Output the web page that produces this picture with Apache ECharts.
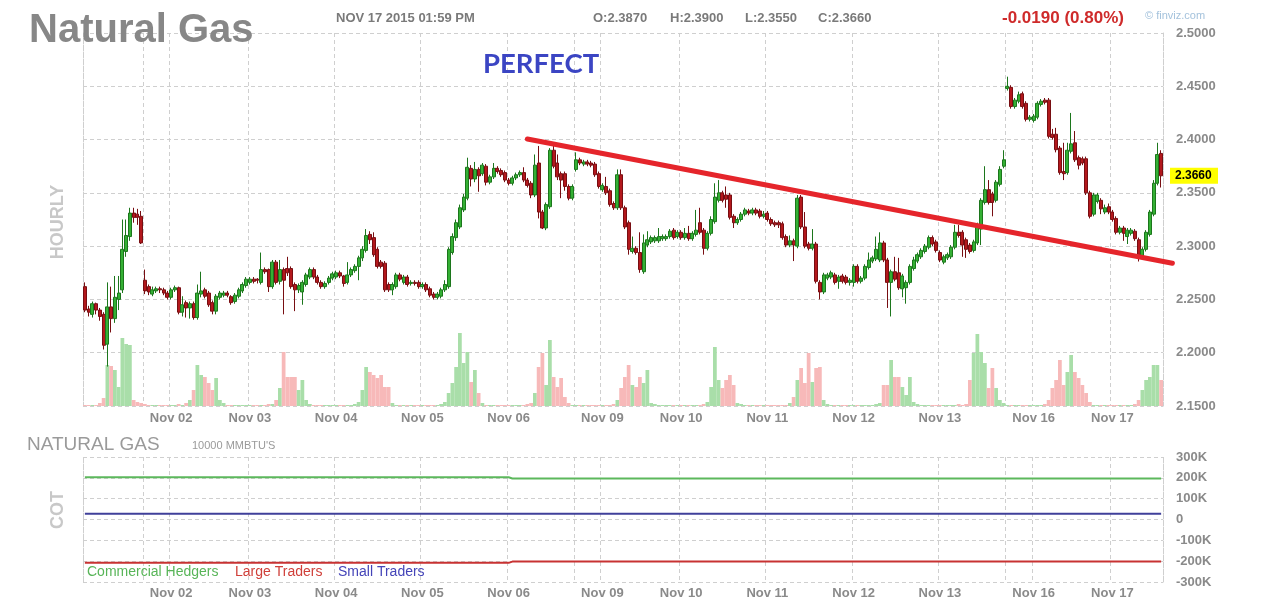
<!DOCTYPE html>
<html><head><meta charset="utf-8">
<script src="https://cdn.jsdelivr.net/npm/echarts/dist/echarts.min.js"></script>
<style>html,body{margin:0;padding:0;background:#fff}#c{width:1261px;height:610px}</style>
</head><body><div id="c"></div>
<script>
// ---- session structure (hourly bars) ----
const segDays  = ['Oct 30','Nov 01','Nov 02','Nov 03','Nov 04','Nov 05','Nov 06','Nov 08','Nov 09','Nov 10','Nov 11','Nov 12','Nov 13','Nov 15','Nov 16','Nov 17'];
const segStartHour = [0,17,0,0,0,0,0,17,0,0,0,0,0,17,0,0];
const tickLabels = ['Nov 02','Nov 03','Nov 04','Nov 05','Nov 06','Nov 09','Nov 10','Nov 11','Nov 12','Nov 13','Nov 16','Nov 17'];

// ---- hourly OHLC [open, high, low, close] per session ----
const barsOct30 = [[2.262,2.266,2.238,2.240],[2.241,2.244,2.234,2.238],[2.236,2.248,2.233,2.246],[2.246,2.247,2.236,2.240],[2.240,2.242,2.230,2.234],[2.236,2.238,2.203,2.207],[2.208,2.266,2.187,2.243],[2.243,2.262,2.219,2.232],[2.232,2.272,2.228,2.252],[2.250,2.272,2.240,2.256],[2.259,2.325,2.256,2.297],[2.295,2.325,2.290,2.310],[2.309,2.336,2.305,2.331],[2.331,2.336,2.322,2.327],[2.330,2.335,2.320,2.327],[2.328,2.333,2.302,2.303]];
const barsNov01 = [[2.268,2.278,2.255,2.258],[2.262,2.264,2.254,2.257],[2.255,2.262,2.253,2.259],[2.258,2.262,2.256,2.260],[2.260,2.262,2.256,2.259],[2.259,2.261,2.254,2.256],[2.256,2.258,2.250,2.252]];
const barsNov02 = [[2.252,2.261,2.250,2.259],[2.259,2.263,2.257,2.261],[2.261,2.262,2.236,2.238],[2.238,2.253,2.234,2.245],[2.247,2.249,2.233,2.242],[2.242,2.248,2.232,2.246],[2.246,2.248,2.231,2.233],[2.233,2.264,2.231,2.256],[2.255,2.276,2.252,2.258],[2.259,2.261,2.251,2.253],[2.256,2.258,2.243,2.245],[2.247,2.249,2.236,2.239],[2.239,2.255,2.236,2.253],[2.252,2.258,2.250,2.256],[2.254,2.258,2.252,2.256],[2.256,2.258,2.252,2.254],[2.2526,2.254,2.245,2.247],[2.248,2.256,2.246,2.254],[2.253,2.261,2.251,2.259],[2.258,2.266,2.256,2.264],[2.263,2.271,2.261,2.269]];
const barsNov03 = [[2.266,2.271,2.264,2.269],[2.269,2.271,2.265,2.267],[2.269,2.270,2.265,2.268],[2.266,2.294,2.264,2.278],[2.278,2.280,2.274,2.276],[2.278,2.279,2.257,2.262],[2.262,2.287,2.260,2.285],[2.285,2.287,2.264,2.266],[2.267,2.287,2.264,2.278],[2.278,2.280,2.236,2.268],[2.279,2.290,2.272,2.275],[2.279,2.281,2.260,2.262],[2.264,2.266,2.239,2.259],[2.259,2.265,2.256,2.263],[2.257,2.268,2.245,2.266],[2.264,2.275,2.262,2.273],[2.271,2.280,2.269,2.278],[2.278,2.280,2.269,2.271],[2.271,2.273,2.264,2.266],[2.266,2.268,2.260,2.262],[2.262,2.267,2.260,2.265],[2.266,2.272,2.264,2.270],[2.270,2.276,2.268,2.274]];
const barsNov04 = [[2.271,2.277,2.269,2.275],[2.275,2.277,2.270,2.272],[2.272,2.273,2.262,2.265],[2.266,2.285,2.264,2.273],[2.273,2.280,2.271,2.278],[2.277,2.283,2.275,2.281],[2.281,2.291,2.268,2.289],[2.289,2.300,2.286,2.297],[2.296,2.316,2.294,2.310],[2.311,2.314,2.302,2.306],[2.308,2.313,2.290,2.292],[2.297,2.299,2.279,2.281],[2.285,2.287,2.279,2.281],[2.284,2.286,2.257,2.259],[2.264,2.266,2.257,2.259],[2.259,2.266,2.254,2.264],[2.262,2.275,2.260,2.273],[2.273,2.275,2.267,2.269],[2.266,2.273,2.264,2.271],[2.271,2.273,2.262,2.264],[2.265,2.268,2.263,2.266],[2.266,2.268,2.263,2.265],[2.266,2.268,2.260,2.262]];
const barsNov05 = [[2.262,2.266,2.260,2.264],[2.264,2.266,2.257,2.259],[2.260,2.262,2.252,2.254],[2.255,2.257,2.250,2.252],[2.252,2.257,2.250,2.255],[2.253,2.261,2.251,2.259],[2.259,2.268,2.257,2.264],[2.262,2.299,2.260,2.297],[2.294,2.312,2.292,2.309],[2.308,2.325,2.305,2.322],[2.318,2.339,2.316,2.336],[2.334,2.349,2.332,2.346],[2.345,2.383,2.343,2.374],[2.373,2.376,2.356,2.363],[2.363,2.379,2.360,2.372],[2.372,2.374,2.351,2.366],[2.368,2.378,2.366,2.376],[2.375,2.377,2.357,2.360],[2.360,2.367,2.358,2.365],[2.365,2.378,2.363,2.373],[2.373,2.375,2.368,2.370],[2.371,2.373,2.365,2.367],[2.369,2.371,2.360,2.362]];
const barsNov06 = [[2.362,2.364,2.357,2.359],[2.359,2.366,2.357,2.364],[2.364,2.369,2.362,2.367],[2.367,2.371,2.365,2.369],[2.369,2.374,2.360,2.362],[2.362,2.364,2.355,2.357],[2.359,2.361,2.345,2.348],[2.348,2.386,2.346,2.376],[2.378,2.394,2.326,2.332],[2.332,2.334,2.316,2.317],[2.317,2.341,2.315,2.339],[2.337,2.392,2.335,2.390],[2.390,2.394,2.373,2.375],[2.378,2.386,2.362,2.365],[2.368,2.370,2.345,2.362],[2.368,2.370,2.352,2.356],[2.356,2.358,2.343,2.345],[2.345,2.358,2.343,2.356]];
const barsNov08 = [[2.372,2.388,2.370,2.381],[2.381,2.383,2.376,2.378],[2.377,2.381,2.375,2.379],[2.379,2.381,2.375,2.377],[2.378,2.380,2.374,2.376],[2.377,2.379,2.365,2.367],[2.368,2.370,2.354,2.356]];
const barsNov09 = [[2.353,2.359,2.351,2.357],[2.356,2.365,2.348,2.350],[2.352,2.354,2.337,2.339],[2.340,2.342,2.334,2.336],[2.336,2.372,2.334,2.367],[2.367,2.372,2.334,2.336],[2.336,2.338,2.316,2.318],[2.322,2.324,2.292,2.297],[2.295,2.309,2.293,2.298],[2.298,2.300,2.292,2.294],[2.294,2.313,2.275,2.278],[2.276,2.311,2.274,2.303],[2.301,2.314,2.299,2.306],[2.304,2.310,2.302,2.308],[2.305,2.310,2.303,2.308],[2.305,2.317,2.303,2.309],[2.307,2.311,2.305,2.309],[2.307,2.311,2.305,2.309],[2.309,2.316,2.307,2.314],[2.315,2.317,2.306,2.308],[2.309,2.315,2.307,2.313]];
const barsNov10 = [[2.313,2.315,2.306,2.308],[2.308,2.317,2.306,2.312],[2.312,2.319,2.305,2.307],[2.307,2.314,2.305,2.312],[2.311,2.334,2.309,2.315],[2.322,2.336,2.311,2.313],[2.315,2.317,2.292,2.298],[2.298,2.314,2.296,2.312],[2.312,2.328,2.310,2.325],[2.323,2.359,2.321,2.346],[2.343,2.362,2.341,2.350],[2.350,2.352,2.341,2.343],[2.348,2.356,2.336,2.344],[2.348,2.350,2.325,2.327],[2.328,2.330,2.317,2.322],[2.322,2.327,2.320,2.325],[2.325,2.332,2.323,2.330],[2.330,2.336,2.328,2.334],[2.333,2.335,2.329,2.331],[2.331,2.336,2.329,2.334],[2.334,2.336,2.329,2.331],[2.333,2.335,2.326,2.328],[2.328,2.333,2.326,2.330]];
const barsNov11 = [[2.331,2.333,2.323,2.325],[2.325,2.327,2.319,2.321],[2.322,2.324,2.318,2.320],[2.322,2.324,2.317,2.320],[2.321,2.323,2.306,2.308],[2.309,2.311,2.299,2.301],[2.301,2.310,2.299,2.305],[2.305,2.307,2.286,2.301],[2.300,2.348,2.298,2.345],[2.346,2.348,2.316,2.318],[2.318,2.332,2.298,2.300],[2.302,2.304,2.296,2.298],[2.298,2.316,2.296,2.302],[2.302,2.304,2.265,2.267],[2.266,2.268,2.250,2.257],[2.257,2.275,2.255,2.273],[2.270,2.275,2.268,2.273],[2.271,2.277,2.269,2.275],[2.273,2.275,2.264,2.266],[2.267,2.273,2.260,2.271],[2.272,2.274,2.265,2.267],[2.271,2.273,2.264,2.266],[2.266,2.270,2.263,2.268]];
const barsNov12 = [[2.266,2.283,2.262,2.281],[2.281,2.283,2.265,2.267],[2.267,2.272,2.265,2.270],[2.270,2.283,2.268,2.281],[2.280,2.294,2.278,2.287],[2.286,2.291,2.284,2.289],[2.288,2.309,2.286,2.297],[2.287,2.313,2.285,2.303],[2.303,2.305,2.285,2.287],[2.287,2.289,2.242,2.266],[2.266,2.278,2.234,2.276],[2.276,2.290,2.267,2.269],[2.275,2.289,2.259,2.261],[2.260,2.274,2.252,2.272],[2.261,2.268,2.246,2.266],[2.266,2.283,2.264,2.281],[2.279,2.290,2.277,2.287],[2.286,2.294,2.284,2.292],[2.290,2.298,2.288,2.296],[2.295,2.302,2.293,2.300],[2.299,2.310,2.297,2.308],[2.308,2.310,2.300,2.302],[2.304,2.306,2.294,2.296]];
const barsNov13 = [[2.294,2.296,2.285,2.287],[2.285,2.292,2.283,2.290],[2.289,2.294,2.287,2.292],[2.290,2.301,2.288,2.299],[2.299,2.320,2.297,2.313],[2.313,2.320,2.308,2.310],[2.313,2.315,2.290,2.301],[2.306,2.308,2.289,2.297],[2.301,2.303,2.293,2.295],[2.296,2.306,2.294,2.304],[2.303,2.322,2.301,2.320],[2.316,2.345,2.301,2.343],[2.341,2.375,2.339,2.353],[2.353,2.362,2.339,2.341],[2.349,2.351,2.328,2.341],[2.343,2.362,2.341,2.360],[2.358,2.375,2.356,2.372],[2.375,2.390,2.373,2.381]];
const barsNov15 = [[2.448,2.459,2.446,2.450],[2.449,2.451,2.429,2.431],[2.431,2.439,2.429,2.437],[2.436,2.445,2.434,2.442],[2.443,2.445,2.429,2.431],[2.434,2.436,2.417,2.419],[2.419,2.423,2.417,2.421]];
const barsNov16 = [[2.418,2.424,2.416,2.422],[2.421,2.436,2.419,2.434],[2.433,2.438,2.431,2.436],[2.437,2.439,2.433,2.435],[2.437,2.439,2.401,2.403],[2.405,2.410,2.400,2.402],[2.405,2.411,2.388,2.3905],[2.392,2.394,2.367,2.369],[2.370,2.397,2.362,2.368],[2.369,2.397,2.367,2.390],[2.389,2.425,2.387,2.396],[2.397,2.408,2.379,2.381],[2.383,2.385,2.372,2.376],[2.382,2.384,2.376,2.378],[2.382,2.384,2.348,2.350],[2.350,2.352,2.326,2.328],[2.330,2.350,2.328,2.348],[2.342,2.350,2.340,2.348],[2.343,2.345,2.330,2.335],[2.332,2.339,2.330,2.336],[2.337,2.340,2.330,2.332]];
const barsNov17 = [[2.332,2.334,2.323,2.325],[2.326,2.328,2.311,2.313],[2.313,2.319,2.311,2.317],[2.317,2.319,2.305,2.312],[2.309,2.317,2.302,2.315],[2.312,2.317,2.310,2.315],[2.314,2.316,2.305,2.307],[2.306,2.308,2.2856,2.292],[2.290,2.299,2.288,2.297],[2.297,2.315,2.295,2.313],[2.311,2.334,2.309,2.332],[2.330,2.362,2.328,2.359],[2.359,2.397,2.357,2.386],[2.387,2.390,2.355,2.366]];

// ---- hourly volume (hundreds of lots) per session ----
const volOct30 = [1,1,1,1,3,8,41,40,36,19,68,62,61,6,4,3];
const volNov01 = [2,1,1,1,1,1,1];
const volNov02 = [1,1,2,1,3,6,16,41,31,29,23,16,28,6,3,1,1,1,1,1,1];
const volNov03 = [1,1,1,1,1,2,2,6,18,54,29,29,29,16,26,6,2,1,1,1,1,1,1];
const volNov04 = [1,1,1,1,1,2,4,16,39,34,31,28,31,19,19,3,1,1,1,1,1,1,1];
const volNov05 = [1,1,1,1,1,2,4,13,23,39,73,43,54,24,36,13,3,1,1,1,1,1,1];
const volNov06 = [1,1,1,1,1,2,3,13,39,53,21,66,29,19,28,9,3,1];
const volNov08 = [1,1,1,1,1,1,1];
const volNov09 = [1,1,1,2,6,18,29,41,21,19,29,23,36,3,2,1,1,1,1,1,1];
const volNov10 = [1,1,1,1,1,1,2,4,19,59,26,18,26,31,21,3,2,1,1,1,1,1,1];
const volNov11 = [1,1,1,1,1,1,3,9,26,38,23,53,24,38,39,6,2,1,1,1,1,1,1];
const volNov12 = [1,1,1,1,1,1,2,3,21,21,46,29,29,19,11,29,4,2,1,1,1,1,1];
const volNov13 = [1,1,1,1,1,2,1,2,26,53,72,54,43,18,38,18,6,3];
const volNov15 = [1,1,1,1,1,1,1];
const volNov16 = [1,1,1,2,6,18,26,46,21,34,51,34,28,21,13,4,1,1,1,1,1];
const volNov17 = [1,1,1,1,1,1,2,6,16,26,29,41,41,26];

// ---- COT net positions (weekly reports: bar index where each report takes effect) ----
const cotReportBar = [0, 114];
const commercialNet = [203000, 197000];
const largeNet = [-208000, -202000];
const smallNet = [28000, 28000];

// ---- annotations ----
const trendLine = [[118, 2.4005], [290, 2.2840]];   // [bar index, price]
const headerChange = '-0.0190 (0.80%)';
const headerTime = 'NOV 17 2015 01:59 PM';
const priceTicks = {min: 2.15, max: 2.50, step: 0.05};
const cotTicks = {min: -300000, max: 300000, step: 100000};

// ---- assemble ----
const sessionBars = [barsOct30,barsNov01,barsNov02,barsNov03,barsNov04,barsNov05,barsNov06,barsNov08,barsNov09,barsNov10,barsNov11,barsNov12,barsNov13,barsNov15,barsNov16,barsNov17];
const sessionVols = [volOct30,volNov01,volNov02,volNov03,volNov04,volNov05,volNov06,volNov08,volNov09,volNov10,volNov11,volNov12,volNov13,volNov15,volNov16,volNov17];

const categories = [], bars = [], vols = [], segStart = [], labelIdx = new Set();
sessionBars.forEach((seg, s) => {
  segStart.push(categories.length);
  if (tickLabels.includes(segDays[s])) labelIdx.add(categories.length);
  seg.forEach((b, k) => {
    const h = (segStartHour[s] + k) % 24;
    categories.push(segDays[s] + ' ' + String(h).padStart(2, '0') + ':00');
    bars.push(b);
    vols.push(sessionVols[s][k]);
  });
});
const gridIdx = new Set(segStart);
const N = categories.length;
const lastBar = bars[bars.length - 1];

const UP = '#34b034', UP_B = '#1c761c', DN = '#b3181c', DN_B = '#780e12';
const VUP = '#a9dea9', VDN = '#f7b9b9';
const FONT = '"Liberation Sans", Arial, sans-serif';
const dash = {color: '#cfcfcf', type: [4, 3], width: 1};
const axisLabelStyle = {color: '#8a8a8a', fontWeight: 'bold', fontSize: 13, fontFamily: FONT};

const candleData = bars.map(b => [b[0], b[3], b[2], b[1]]);
const volData = vols.map((v, i) => ({value: v, itemStyle: {color: bars[i][3] >= bars[i][0] ? VUP : VDN}}));
// each weekly report value holds until the next report
function holdSeries(vals) {
  const out = [];
  let r = 0;
  for (let i = 0; i < N; i++) {
    while (r + 1 < cotReportBar.length && i >= cotReportBar[r + 1]) r++;
    out.push(vals[r]);
  }
  return out;
}

const xBase = (gi) => ({
  type: 'category', gridIndex: gi, data: categories, boundaryGap: true,
  axisLine: {show: false}, axisTick: {show: false},
  axisLabel: Object.assign({interval: (i) => labelIdx.has(i), formatter: v => v.slice(0, 6), margin: gi === 0 ? 6 : 5}, axisLabelStyle),
  splitLine: {show: true, interval: (i) => gridIdx.has(i), lineStyle: dash}
});

const chart = echarts.init(document.getElementById('c'), null, {renderer: 'canvas'});
chart.setOption({
  animation: false,
  backgroundColor: '#ffffff',
  grid: [
    {left: 83, top: 33, width: 1080, height: 373, outerBoundsMode: 'none'},
    {left: 83, top: 457, width: 1080, height: 125, outerBoundsMode: 'none'}
  ],
  xAxis: [xBase(0), xBase(1)],
  yAxis: [
    {type: 'value', gridIndex: 0, position: 'right', min: priceTicks.min, max: priceTicks.max, interval: priceTicks.step,
     axisLine: {show: true, lineStyle: dash}, axisTick: {show: false},
     axisLabel: Object.assign({formatter: v => v.toFixed(4), margin: 13, showMinLabel: true, showMaxLabel: true}, axisLabelStyle),
     splitLine: {show: true, lineStyle: dash}},
    {type: 'value', gridIndex: 0, position: 'left', min: 0, max: 373,
     axisLine: {show: true, lineStyle: dash}, axisTick: {show: false}, axisLabel: {show: false}, splitLine: {show: false}},
    {type: 'value', gridIndex: 1, position: 'right', min: cotTicks.min, max: cotTicks.max, interval: cotTicks.step,
     axisLine: {show: true, lineStyle: dash}, axisTick: {show: false},
     axisLabel: Object.assign({formatter: v => v === 0 ? '0' : (v / 1000) + 'K', margin: 13, showMinLabel: true, showMaxLabel: true}, axisLabelStyle),
     splitLine: {show: true, lineStyle: dash}},
    {type: 'value', gridIndex: 1, position: 'left', min: cotTicks.min, max: cotTicks.max,
     axisLine: {show: true, lineStyle: dash}, axisTick: {show: false}, axisLabel: {show: false}, splitLine: {show: false}}
  ],
  series: [
    {name: 'Volume', type: 'bar', xAxisIndex: 0, yAxisIndex: 1, data: volData, barCategoryGap: '0%', z: 1},
    {name: 'Natural Gas', type: 'candlestick', xAxisIndex: 0, yAxisIndex: 0, data: candleData, barWidth: 3.5, z: 3,
     itemStyle: {color: UP, color0: DN, borderColor: UP_B, borderColor0: DN_B, borderWidth: 1}},
    {name: 'Commercial Hedgers', type: 'line', xAxisIndex: 1, yAxisIndex: 2, data: holdSeries(commercialNet), showSymbol: false, lineStyle: {color: '#5cb85c', width: 2}},
    {name: 'Large Traders', type: 'line', xAxisIndex: 1, yAxisIndex: 2, data: holdSeries(largeNet), showSymbol: false, lineStyle: {color: '#c83232', width: 2}},
    {name: 'Small Traders', type: 'line', xAxisIndex: 1, yAxisIndex: 2, data: holdSeries(smallNet), showSymbol: false, lineStyle: {color: '#40409a', width: 2}}
  ]
});

const p1 = chart.convertToPixel({gridIndex: 0}, trendLine[0]);
const p2 = chart.convertToPixel({gridIndex: 0}, trendLine[1]);
const yLast = chart.convertToPixel({yAxisIndex: 0}, lastBar[3]);
const hdr = (x, y, text, size, color, weight, family) => ({type: 'text', x, y, z: 50,
  style: {text, fontSize: size, fontWeight: weight || 'bold', fontFamily: family || FONT, fill: color, align: 'left', verticalAlign: 'middle'}});

chart.setOption({
  graphic: [
    hdr(29, 31, 'Natural Gas', 40, '#878787'),
    hdr(336, 18, headerTime, 13, '#7a7a7a'),
    hdr(593, 18, 'O:' + lastBar[0].toFixed(4), 13, '#7a7a7a'),
    hdr(670, 18, 'H:' + lastBar[1].toFixed(4), 13, '#7a7a7a'),
    hdr(745, 18, 'L:' + lastBar[2].toFixed(4), 13, '#7a7a7a'),
    hdr(818, 18, 'C:' + lastBar[3].toFixed(4), 13, '#7a7a7a'),
    hdr(1002, 18, headerChange, 17, '#cf2b2b'),
    hdr(1145, 16, '\u00a9 finviz.com', 11, '#a4c2dc', 'normal'),
    hdr(483, 64, 'PERFECT', 27.5, '#3b45c3', 'bold', 'Lato, "Open Sans", sans-serif'),
    {type: 'text', x: 58, y: 222, rotation: Math.PI / 2, z: 50,
     style: {text: 'HOURLY', fontSize: 18, fontWeight: 'bold', fontFamily: FONT, fill: '#c8c8c8', align: 'center', verticalAlign: 'middle'}},
    hdr(27, 445, 'NATURAL GAS', 19, '#9a9a9a', 'normal'),
    hdr(192, 446, "10000 MMBTU'S", 11, '#9a9a9a', 'normal'),
    {type: 'text', x: 58, y: 510, rotation: Math.PI / 2, z: 50,
     style: {text: 'COT', fontSize: 18, fontWeight: 'bold', fontFamily: FONT, fill: '#c8c8c8', align: 'center', verticalAlign: 'middle'}},
    hdr(87, 572, 'Commercial Hedgers', 14, '#58b558', 'normal'),
    hdr(235, 572, 'Large Traders', 14, '#d0403a', 'normal'),
    hdr(338, 572, 'Small Traders', 14, '#4444b8', 'normal'),
    {type: 'line', z: 60, shape: {x1: p1[0], y1: p1[1], x2: p2[0], y2: p2[1]},
     style: {stroke: '#e5252b', lineWidth: 5, lineCap: 'round'}},
    {type: 'rect', z: 60, shape: {x: 1170, y: yLast - 8, width: 48, height: 16}, style: {fill: '#ffff00'}},
    {type: 'text', z: 61, x: 1175, y: yLast, style: {text: lastBar[3].toFixed(4), fontSize: 12, fontWeight: 'bold', fontFamily: FONT, fill: '#000', align: 'left', verticalAlign: 'middle'}}
  ]
});
</script>
</body></html>
